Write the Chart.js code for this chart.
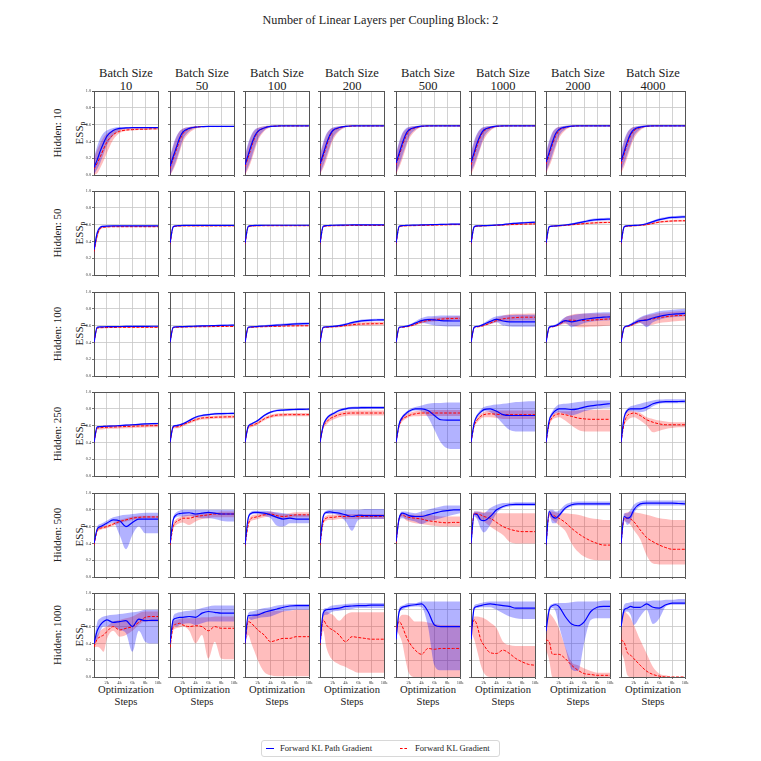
<!DOCTYPE html>
<html>
<head>
<meta charset="utf-8">
<script src="https://cdn.jsdelivr.net/npm/chart.js@4.4.0/dist/chart.umd.min.js"></script>
<style>
  body { margin: 0; background: #fff; }
  #fig { position: relative; width: 761px; height: 761px; overflow: hidden;
         font-family: 'Liberation Serif', 'DejaVu Serif', serif; color: #222; }
  .t { position: absolute; white-space: nowrap; transform: translate(-50%, -50%); line-height: 1; }
  .rot { transform: translate(-50%, -50%) rotate(-90deg); }
  .t sub { font-size: 70%; vertical-align: -0.3em; line-height: 0; }
  canvas { position: absolute; }
  #legend { position: absolute; left: 261px; top: 740px; width: 237px; height: 15px;
            border: 1px solid #d8d8d8; border-radius: 3px; font-size: 8.6px; }
  #legend span { position: absolute; top: 7px; }
</style>
</head>
<body>
<div id="fig">
  <div id="legend">
    <span style="left:4px;width:8px;border-top:1.2px solid #0000ff;"></span>
    <span style="left:18px;top:2px;">Forward KL Path Gradient</span>
    <span style="left:138px;width:7px;border-top:1px dashed #ff0000;"></span>
    <span style="left:153px;top:2px;">Forward KL Gradient</span>
  </div>
</div>
<script>
// Dati
const steps = [0, 500, 1000, 1500, 2000, 3000, 4000, 5000, 6000, 7000, 8000, 9000, 10000];
const batchSizes = ['10', '50', '100', '200', '500', '1000', '2000', '4000'];
const hiddenSizes = ['10', '50', '100', '250', '500', '1000'];
const xTickValues = [2000, 4000, 6000, 8000, 10000];
const xTickLabels = ['2k', '4k', '6k', '8k', '10k'];
const yTickValues = [0, 0.2, 0.4, 0.6, 0.8, 1.0];
const yTickLabels = ['0.0', '0.2', '0.4', '0.6', '0.8', '1.0'];

// Hidden: 10
const pathMeanH10 = [
  [.09,.18,.29,.38,.46,.53,.555,.56,.565,.565,.565,.565,.565],
  [.10,.22,.33,.44,.51,.555,.57,.575,.578,.578,.578,.578,.578],
  [.12,.24,.36,.46,.52,.56,.58,.583,.585,.585,.585,.585,.585],
  [.13,.25,.37,.47,.53,.565,.58,.584,.585,.585,.585,.585,.585],
  [.14,.26,.38,.48,.535,.567,.581,.585,.586,.586,.586,.586,.586],
  [.15,.27,.39,.48,.535,.567,.581,.585,.586,.586,.586,.586,.586],
  [.15,.27,.39,.49,.54,.57,.582,.585,.586,.586,.586,.586,.586],
  [.16,.28,.40,.49,.54,.57,.582,.585,.586,.586,.586,.586,.586]];
const pathLowH10 = [
  [.01,.07,.15,.25,.35,.47,.53,.55,.56,.56,.56,.56,.56],
  [.00,.08,.18,.30,.42,.52,.56,.57,.575,.575,.575,.575,.575],
  [.01,.10,.20,.32,.43,.53,.57,.58,.582,.582,.582,.582,.582],
  [.02,.11,.22,.33,.44,.53,.57,.58,.582,.582,.582,.582,.582],
  [.03,.12,.23,.34,.45,.54,.572,.58,.583,.583,.583,.583,.583],
  [.04,.12,.23,.34,.45,.54,.572,.58,.583,.583,.583,.583,.583],
  [.04,.13,.24,.35,.46,.545,.574,.581,.583,.583,.583,.583,.583],
  [.05,.14,.25,.36,.46,.545,.574,.581,.583,.583,.583,.583,.583]];
const pathHighH10 = [
  [.21,.34,.44,.50,.53,.56,.57,.57,.57,.57,.57,.57,.57],
  [.22,.36,.46,.52,.55,.57,.58,.58,.58,.58,.58,.58,.58],
  [.24,.38,.48,.54,.56,.58,.585,.588,.588,.588,.588,.588,.588],
  [.25,.39,.49,.54,.565,.58,.587,.588,.588,.588,.588,.588,.588],
  [.26,.40,.50,.55,.57,.583,.588,.589,.589,.589,.589,.589,.589],
  [.27,.41,.50,.55,.57,.583,.588,.589,.589,.589,.589,.589,.589],
  [.27,.41,.51,.555,.572,.585,.588,.589,.589,.589,.589,.589,.589],
  [.28,.42,.51,.555,.572,.585,.588,.589,.589,.589,.589,.589,.589]];
const gradMeanH10 = [
  [.07,.14,.22,.31,.39,.48,.52,.535,.54,.545,.545,.55,.55],
  [.08,.19,.30,.41,.49,.55,.57,.575,.577,.577,.577,.577,.577],
  [.10,.21,.33,.44,.51,.56,.578,.582,.584,.584,.584,.584,.584],
  [.11,.22,.34,.45,.52,.56,.578,.582,.584,.584,.584,.584,.584],
  [.12,.23,.35,.45,.52,.562,.579,.583,.585,.585,.585,.585,.585],
  [.12,.24,.36,.46,.52,.562,.579,.583,.585,.585,.585,.585,.585],
  [.13,.24,.36,.46,.525,.565,.58,.584,.585,.585,.585,.585,.585],
  [.13,.25,.37,.47,.525,.565,.58,.584,.585,.585,.585,.585,.585]];
const gradLowH10 = [
  [.00,.02,.09,.17,.26,.42,.50,.525,.53,.535,.535,.54,.54],
  [.00,.06,.15,.27,.39,.50,.55,.57,.573,.573,.573,.573,.573],
  [.00,.07,.17,.29,.40,.52,.565,.578,.58,.58,.58,.58,.58],
  [.01,.08,.18,.30,.41,.52,.565,.578,.58,.58,.58,.58,.58],
  [.01,.09,.19,.31,.42,.525,.567,.579,.581,.581,.581,.581,.581],
  [.01,.09,.20,.32,.42,.525,.567,.579,.581,.581,.581,.581,.581],
  [.02,.10,.20,.32,.43,.53,.57,.58,.581,.581,.581,.581,.581],
  [.02,.10,.21,.33,.43,.53,.57,.58,.581,.581,.581,.581,.581]];
const gradHighH10 = [
  [.20,.30,.38,.45,.49,.54,.555,.56,.56,.56,.56,.56,.56],
  [.21,.34,.45,.52,.55,.57,.58,.58,.58,.58,.58,.58,.58],
  [.22,.36,.47,.53,.56,.58,.585,.588,.588,.588,.588,.588,.588],
  [.23,.37,.48,.54,.56,.58,.586,.588,.588,.588,.588,.588,.588],
  [.24,.38,.49,.54,.565,.582,.587,.589,.589,.589,.589,.589,.589],
  [.25,.39,.49,.545,.565,.582,.587,.589,.589,.589,.589,.589,.589],
  [.25,.39,.50,.55,.57,.584,.588,.589,.589,.589,.589,.589,.589],
  [.26,.40,.50,.55,.57,.584,.588,.589,.589,.589,.589,.589,.589]];

// Hidden: 50
const pathMeanH50 = [
  [.30,.50,.57,.58,.583,.585,.585,.585,.585,.585,.585,.585,.585],
  [.38,.575,.585,.588,.59,.59,.59,.59,.59,.59,.59,.59,.59],
  [.38,.578,.587,.59,.59,.592,.592,.592,.592,.592,.592,.592,.592],
  [.38,.58,.588,.59,.592,.594,.595,.596,.597,.597,.597,.597,.597],
  [.38,.58,.588,.59,.592,.594,.596,.598,.60,.602,.604,.605,.606],
  [.38,.575,.585,.586,.588,.59,.595,.60,.61,.615,.62,.625,.628],
  [.38,.575,.583,.585,.588,.595,.605,.62,.635,.65,.66,.663,.665],
  [.38,.575,.585,.588,.59,.595,.61,.635,.66,.675,.685,.69,.692]];
const pathLowH50 = [
  [.24,.46,.55,.57,.575,.578,.578,.578,.578,.578,.578,.578,.578],
  [.34,.565,.58,.583,.585,.585,.585,.585,.585,.585,.585,.585,.585],
  [.34,.568,.582,.585,.585,.587,.587,.587,.587,.587,.587,.587,.587],
  [.34,.57,.583,.585,.587,.589,.59,.591,.592,.592,.592,.592,.592],
  [.34,.57,.583,.585,.587,.589,.59,.592,.594,.595,.597,.598,.598],
  [.34,.565,.578,.58,.582,.584,.588,.592,.60,.604,.608,.612,.614],
  [.34,.565,.576,.578,.58,.587,.595,.607,.62,.633,.643,.647,.649],
  [.34,.565,.578,.58,.582,.587,.598,.62,.645,.66,.67,.674,.676]];
const pathHighH50 = [
  [.35,.53,.58,.59,.59,.592,.592,.592,.592,.592,.592,.592,.592],
  [.42,.585,.59,.593,.595,.595,.595,.595,.595,.595,.595,.595,.595],
  [.42,.588,.592,.595,.595,.597,.597,.597,.597,.597,.597,.597,.597],
  [.42,.59,.593,.595,.597,.599,.60,.601,.602,.602,.602,.602,.602],
  [.42,.59,.593,.595,.597,.599,.602,.604,.606,.609,.611,.612,.614],
  [.42,.585,.592,.592,.594,.596,.602,.608,.62,.626,.632,.638,.642],
  [.42,.585,.59,.592,.596,.603,.615,.633,.65,.667,.677,.68,.682],
  [.42,.585,.592,.596,.598,.603,.622,.65,.675,.69,.70,.706,.708]];
const gradMeanH50 = [
  [.28,.47,.555,.568,.572,.575,.575,.575,.575,.575,.575,.575,.575],
  [.37,.57,.58,.583,.585,.585,.585,.585,.585,.585,.585,.585,.585],
  [.37,.572,.582,.585,.586,.587,.587,.587,.587,.587,.587,.587,.587],
  [.37,.574,.583,.585,.587,.588,.589,.59,.59,.59,.59,.59,.59],
  [.37,.574,.583,.585,.587,.588,.59,.592,.594,.596,.598,.60,.60],
  [.37,.57,.58,.583,.585,.588,.59,.595,.60,.603,.605,.607,.608],
  [.37,.57,.58,.583,.585,.59,.598,.605,.612,.618,.622,.625,.626],
  [.37,.57,.58,.583,.586,.59,.60,.615,.63,.638,.643,.645,.646]];
const gradLowH50 = [
  [.22,.43,.54,.56,.565,.568,.568,.568,.568,.568,.568,.568,.568],
  [.33,.562,.572,.575,.577,.577,.577,.577,.577,.577,.577,.577,.577],
  [.33,.564,.574,.577,.578,.579,.579,.579,.579,.579,.579,.579,.579],
  [.33,.566,.575,.577,.579,.58,.581,.582,.582,.582,.582,.582,.582],
  [.33,.566,.575,.577,.579,.58,.582,.584,.586,.588,.59,.591,.591],
  [.33,.562,.572,.575,.577,.58,.582,.586,.59,.593,.595,.597,.598],
  [.33,.562,.572,.575,.577,.582,.589,.595,.602,.607,.611,.614,.615],
  [.33,.562,.572,.575,.578,.582,.59,.604,.618,.626,.631,.633,.634]];
const gradHighH50 = [
  [.33,.51,.57,.578,.58,.582,.582,.582,.582,.582,.582,.582,.582],
  [.41,.578,.588,.591,.593,.593,.593,.593,.593,.593,.593,.593,.593],
  [.41,.58,.59,.593,.594,.595,.595,.595,.595,.595,.595,.595,.595],
  [.41,.582,.591,.593,.595,.596,.597,.598,.598,.598,.598,.598,.598],
  [.41,.582,.591,.593,.595,.596,.598,.60,.602,.604,.606,.609,.609],
  [.41,.578,.588,.591,.593,.596,.598,.604,.61,.613,.615,.617,.618],
  [.41,.578,.588,.591,.593,.598,.607,.615,.622,.629,.633,.636,.637],
  [.41,.578,.588,.591,.594,.598,.61,.626,.642,.65,.655,.657,.658]];

// Hidden: 100
const pathMeanH100 = [
  [.40,.58,.585,.586,.587,.588,.589,.59,.59,.59,.59,.592,.592],
  [.40,.58,.585,.587,.588,.59,.593,.596,.598,.60,.602,.604,.605],
  [.40,.58,.585,.587,.59,.595,.60,.605,.61,.615,.62,.623,.625],
  [.40,.58,.585,.587,.59,.60,.615,.635,.65,.66,.665,.667,.668],
  [.40,.58,.585,.59,.60,.63,.66,.67,.668,.66,.656,.655,.655],
  [.40,.58,.59,.60,.615,.65,.675,.655,.645,.645,.645,.645,.645],
  [.40,.58,.59,.60,.62,.66,.645,.66,.675,.685,.695,.70,.705],
  [.40,.58,.595,.61,.63,.66,.665,.69,.71,.725,.735,.74,.745]];
const pathLowH100 = [
  [.40,.572,.578,.579,.58,.581,.582,.583,.583,.583,.583,.585,.585],
  [.40,.572,.578,.58,.58,.582,.585,.588,.59,.592,.594,.596,.597],
  [.40,.572,.578,.58,.582,.585,.588,.592,.596,.60,.605,.608,.61],
  [.40,.572,.578,.58,.582,.59,.602,.62,.635,.645,.65,.652,.653],
  [.40,.575,.58,.585,.59,.61,.63,.62,.60,.595,.59,.59,.59],
  [.40,.575,.585,.59,.60,.62,.64,.60,.59,.585,.585,.585,.585],
  [.40,.575,.58,.585,.60,.63,.58,.60,.63,.645,.655,.66,.665],
  [.40,.575,.585,.595,.61,.63,.58,.64,.67,.69,.70,.705,.71]];
const pathHighH100 = [
  [.40,.588,.592,.593,.594,.595,.596,.597,.597,.597,.597,.599,.599],
  [.40,.588,.592,.594,.596,.598,.601,.604,.606,.608,.61,.612,.613],
  [.40,.588,.592,.594,.598,.605,.612,.618,.624,.63,.635,.638,.64],
  [.40,.588,.592,.594,.598,.61,.628,.65,.665,.675,.68,.682,.683],
  [.40,.585,.59,.60,.61,.65,.69,.71,.715,.72,.72,.72,.72],
  [.40,.585,.595,.61,.63,.68,.71,.72,.725,.73,.73,.73,.73],
  [.40,.585,.60,.615,.64,.70,.72,.735,.745,.75,.755,.76,.76],
  [.40,.585,.605,.625,.65,.70,.73,.75,.77,.78,.79,.795,.80]];
const gradMeanH100 = [
  [.40,.57,.575,.576,.577,.578,.58,.58,.58,.58,.58,.58,.58],
  [.40,.575,.58,.582,.583,.585,.586,.587,.588,.589,.59,.59,.59],
  [.40,.575,.58,.583,.585,.587,.59,.592,.594,.596,.597,.598,.598],
  [.40,.575,.58,.583,.585,.59,.60,.61,.617,.62,.622,.623,.624],
  [.40,.575,.58,.585,.59,.615,.645,.66,.67,.677,.682,.685,.687],
  [.40,.575,.585,.59,.60,.63,.66,.68,.69,.695,.70,.70,.70],
  [.40,.575,.585,.595,.61,.655,.665,.66,.66,.665,.67,.675,.68],
  [.40,.575,.59,.60,.62,.655,.67,.68,.695,.705,.715,.72,.722]];
const gradLowH100 = [
  [.40,.562,.567,.568,.569,.57,.572,.572,.572,.572,.572,.572,.572],
  [.40,.567,.572,.574,.575,.577,.578,.579,.58,.581,.582,.582,.582],
  [.40,.567,.572,.575,.577,.579,.582,.584,.586,.588,.589,.59,.59],
  [.40,.567,.572,.575,.577,.58,.585,.592,.598,.60,.602,.603,.604],
  [.40,.57,.575,.58,.585,.60,.625,.64,.65,.655,.66,.66,.66],
  [.40,.57,.58,.585,.595,.615,.64,.65,.655,.66,.66,.66,.66],
  [.40,.57,.58,.585,.60,.62,.60,.58,.58,.585,.59,.595,.60],
  [.40,.57,.58,.59,.60,.63,.60,.61,.63,.64,.65,.655,.66]];
const gradHighH100 = [
  [.40,.578,.583,.584,.585,.586,.588,.588,.588,.588,.588,.588,.588],
  [.40,.583,.588,.59,.591,.593,.594,.595,.596,.597,.598,.598,.598],
  [.40,.583,.588,.591,.593,.595,.598,.60,.602,.604,.605,.606,.606],
  [.40,.583,.588,.591,.593,.60,.615,.628,.636,.64,.642,.643,.644],
  [.40,.58,.585,.59,.60,.63,.665,.685,.695,.70,.705,.708,.71],
  [.40,.58,.59,.60,.61,.65,.69,.72,.735,.74,.74,.745,.745],
  [.40,.58,.59,.605,.625,.70,.73,.74,.745,.745,.745,.745,.745],
  [.40,.58,.60,.615,.64,.69,.72,.735,.75,.76,.765,.77,.77]];

// Hidden: 250
const pathMeanH250 = [
  [.40,.585,.588,.59,.592,.595,.60,.605,.61,.615,.62,.623,.625],
  [.40,.59,.60,.61,.62,.66,.70,.72,.73,.74,.742,.744,.745],
  [.40,.59,.62,.64,.66,.72,.76,.78,.785,.79,.792,.794,.795],
  [.40,.60,.68,.72,.74,.78,.80,.81,.812,.814,.815,.815,.815],
  [.40,.62,.70,.74,.77,.80,.80,.78,.72,.67,.665,.665,.665],
  [.40,.63,.72,.76,.79,.80,.77,.73,.72,.72,.72,.72,.72],
  [.40,.66,.74,.78,.80,.80,.79,.80,.82,.835,.845,.853,.86],
  [.40,.70,.78,.80,.80,.80,.82,.86,.88,.885,.885,.887,.89]];
const pathLowH250 = [
  [.40,.577,.58,.582,.584,.587,.592,.597,.602,.607,.612,.615,.617],
  [.40,.58,.59,.60,.608,.648,.688,.708,.718,.728,.73,.732,.733],
  [.40,.58,.61,.63,.648,.708,.748,.768,.773,.778,.78,.782,.783],
  [.40,.585,.665,.705,.725,.765,.785,.795,.797,.799,.80,.80,.80],
  [.40,.60,.68,.72,.75,.78,.77,.70,.55,.40,.33,.32,.32],
  [.40,.61,.70,.74,.77,.76,.70,.62,.55,.53,.53,.53,.53],
  [.40,.64,.72,.75,.76,.74,.72,.74,.77,.79,.80,.81,.815],
  [.40,.68,.76,.77,.77,.76,.78,.83,.86,.865,.865,.865,.865]];
const pathHighH250 = [
  [.40,.593,.596,.598,.60,.603,.608,.613,.618,.623,.628,.631,.633],
  [.40,.60,.61,.62,.632,.672,.712,.732,.742,.752,.754,.756,.757],
  [.40,.60,.63,.65,.672,.732,.772,.792,.797,.802,.804,.806,.807],
  [.40,.615,.695,.735,.755,.795,.815,.825,.827,.829,.83,.83,.83],
  [.40,.64,.72,.76,.79,.82,.84,.86,.87,.87,.875,.875,.875],
  [.40,.65,.74,.79,.82,.84,.85,.86,.87,.88,.885,.89,.89],
  [.40,.68,.77,.82,.85,.86,.87,.88,.89,.895,.90,.90,.90],
  [.40,.72,.80,.83,.84,.86,.88,.90,.91,.915,.915,.915,.915]];
const gradMeanH250 = [
  [.40,.57,.575,.578,.58,.583,.586,.589,.592,.595,.597,.599,.60],
  [.40,.58,.585,.59,.61,.64,.67,.69,.695,.70,.702,.704,.705],
  [.40,.58,.60,.615,.63,.68,.71,.725,.728,.73,.73,.73,.73],
  [.40,.59,.64,.68,.70,.73,.745,.75,.75,.75,.75,.75,.75],
  [.40,.60,.68,.70,.72,.74,.75,.75,.75,.75,.75,.75,.75],
  [.40,.60,.67,.71,.73,.74,.735,.73,.73,.73,.73,.73,.73],
  [.40,.62,.70,.73,.74,.73,.71,.69,.68,.675,.675,.675,.675],
  [.40,.63,.72,.74,.75,.72,.67,.64,.62,.61,.61,.61,.61]];
const gradLowH250 = [
  [.40,.55,.555,.558,.56,.563,.566,.569,.572,.575,.577,.579,.58],
  [.40,.562,.567,.572,.592,.622,.652,.672,.677,.682,.684,.686,.687],
  [.40,.56,.58,.595,.61,.66,.69,.705,.708,.71,.71,.71,.71],
  [.40,.56,.61,.65,.67,.70,.715,.72,.72,.72,.72,.72,.72],
  [.40,.58,.65,.68,.70,.71,.715,.715,.715,.715,.715,.715,.715],
  [.40,.58,.64,.68,.70,.70,.69,.68,.68,.68,.68,.68,.68],
  [.40,.60,.67,.69,.70,.66,.60,.55,.53,.53,.53,.53,.53],
  [.40,.60,.66,.69,.70,.66,.60,.52,.54,.56,.57,.58,.58]];
const gradHighH250 = [
  [.40,.59,.595,.598,.60,.603,.606,.609,.612,.615,.617,.619,.62],
  [.40,.598,.603,.608,.628,.658,.688,.708,.713,.718,.72,.722,.723],
  [.40,.60,.62,.635,.65,.70,.73,.745,.748,.75,.75,.75,.75],
  [.40,.62,.67,.71,.73,.76,.775,.78,.78,.78,.78,.78,.78],
  [.40,.62,.71,.73,.75,.77,.78,.785,.785,.785,.785,.785,.785],
  [.40,.62,.70,.74,.76,.78,.78,.78,.78,.78,.78,.78,.78],
  [.40,.64,.73,.76,.77,.77,.775,.78,.785,.79,.79,.79,.79],
  [.40,.66,.78,.78,.77,.75,.70,.68,.66,.65,.64,.64,.64]];

// Hidden: 500
const pathMeanH500 = [
  [.40,.57,.60,.62,.64,.68,.67,.60,.65,.69,.69,.69,.69],
  [.40,.68,.74,.755,.76,.765,.75,.76,.77,.76,.75,.75,.75],
  [.38,.70,.76,.77,.77,.76,.74,.71,.69,.70,.69,.69,.69],
  [.40,.72,.77,.775,.77,.76,.74,.72,.735,.73,.73,.73,.73],
  [.42,.70,.76,.75,.73,.72,.72,.74,.76,.78,.79,.80,.80],
  [.40,.75,.74,.68,.67,.72,.80,.84,.86,.865,.865,.865,.865],
  [.38,.78,.72,.70,.73,.82,.86,.87,.87,.87,.87,.87,.87],
  [.40,.72,.70,.72,.80,.87,.88,.88,.88,.88,.88,.875,.87]];
const pathLowH500 = [
  [.40,.55,.58,.60,.62,.65,.50,.33,.50,.60,.52,.52,.52],
  [.40,.66,.71,.72,.72,.73,.71,.70,.70,.69,.67,.66,.66],
  [.38,.68,.74,.75,.75,.73,.70,.61,.60,.64,.64,.64,.64],
  [.40,.70,.75,.75,.75,.73,.66,.55,.68,.69,.69,.69,.69],
  [.40,.68,.70,.69,.68,.66,.63,.66,.68,.70,.72,.74,.76],
  [.38,.72,.68,.58,.53,.62,.76,.82,.84,.845,.845,.845,.845],
  [.36,.74,.64,.64,.70,.80,.84,.85,.85,.85,.85,.85,.85],
  [.38,.68,.62,.66,.76,.84,.85,.85,.85,.85,.85,.85,.85]];
const pathHighH500 = [
  [.40,.60,.63,.65,.67,.71,.73,.74,.75,.76,.765,.765,.765],
  [.40,.70,.77,.79,.80,.80,.80,.80,.80,.80,.80,.80,.80],
  [.38,.72,.78,.79,.79,.79,.78,.77,.76,.75,.745,.745,.745],
  [.40,.74,.79,.80,.80,.80,.80,.80,.80,.81,.81,.81,.81],
  [.44,.72,.78,.78,.77,.76,.78,.80,.82,.84,.85,.85,.85],
  [.42,.78,.78,.77,.76,.82,.86,.88,.885,.89,.89,.89,.89],
  [.40,.80,.80,.78,.79,.86,.89,.90,.90,.90,.90,.90,.90],
  [.42,.76,.76,.80,.86,.90,.91,.91,.91,.91,.91,.91,.91]];
const gradMeanH500 = [
  [.38,.55,.58,.59,.60,.63,.66,.68,.70,.71,.715,.715,.715],
  [.38,.60,.66,.68,.70,.70,.72,.73,.74,.75,.75,.75,.75],
  [.37,.62,.70,.71,.72,.74,.75,.73,.72,.73,.74,.74,.74],
  [.38,.65,.70,.71,.71,.72,.72,.72,.72,.72,.72,.72,.72],
  [.40,.70,.74,.72,.71,.70,.69,.67,.66,.65,.645,.65,.65],
  [.40,.76,.75,.74,.72,.70,.65,.60,.57,.55,.54,.54,.54],
  [.38,.75,.74,.72,.70,.65,.58,.52,.47,.43,.40,.38,.38],
  [.40,.70,.70,.69,.66,.56,.47,.42,.38,.35,.33,.33,.33]];
const gradLowH500 = [
  [.36,.53,.56,.57,.58,.61,.64,.66,.68,.69,.70,.70,.70],
  [.36,.57,.62,.64,.65,.62,.66,.69,.70,.71,.71,.71,.71],
  [.35,.59,.67,.68,.69,.71,.72,.70,.69,.70,.71,.71,.71],
  [.36,.62,.67,.68,.68,.69,.69,.69,.69,.69,.69,.69,.69],
  [.38,.68,.72,.68,.66,.64,.63,.62,.61,.60,.60,.60,.60],
  [.38,.74,.70,.68,.66,.60,.55,.50,.42,.40,.40,.40,.40],
  [.36,.72,.68,.65,.62,.55,.40,.30,.24,.21,.20,.20,.20],
  [.38,.66,.65,.62,.56,.45,.26,.16,.15,.15,.15,.15,.15]];
const gradHighH500 = [
  [.40,.57,.60,.61,.62,.65,.68,.70,.72,.73,.73,.73,.73],
  [.40,.63,.69,.71,.73,.74,.75,.76,.77,.77,.78,.78,.78],
  [.39,.65,.73,.74,.75,.77,.78,.76,.75,.76,.77,.77,.77],
  [.40,.68,.73,.74,.74,.75,.75,.75,.75,.75,.75,.75,.75],
  [.42,.72,.76,.75,.74,.74,.74,.74,.73,.72,.72,.72,.72],
  [.42,.78,.78,.78,.77,.77,.76,.76,.76,.76,.76,.76,.76],
  [.40,.78,.78,.77,.76,.76,.75,.74,.72,.70,.69,.68,.68],
  [.42,.74,.77,.78,.77,.76,.74,.72,.70,.69,.68,.68,.68]];

// Hidden: 1000
const pathMeanH1000 = [
  [.40,.55,.62,.66,.68,.65,.66,.67,.60,.69,.67,.675,.675],
  [.40,.68,.70,.71,.71,.72,.71,.76,.78,.77,.76,.76,.76],
  [.40,.73,.735,.737,.74,.77,.79,.81,.83,.845,.85,.85,.85],
  [.40,.76,.80,.805,.81,.82,.84,.845,.85,.85,.855,.855,.855],
  [.45,.78,.83,.84,.85,.86,.87,.78,.62,.60,.60,.60,.60],
  [.45,.82,.84,.85,.86,.87,.86,.85,.84,.82,.82,.82,.82],
  [.55,.80,.85,.86,.84,.72,.63,.61,.66,.78,.83,.84,.84],
  [.60,.80,.82,.84,.83,.83,.87,.83,.82,.86,.88,.88,.88]];
const pathLowH1000 = [
  [.38,.45,.55,.60,.60,.60,.56,.52,.30,.55,.42,.40,.40],
  [.38,.62,.60,.62,.63,.64,.62,.64,.66,.66,.66,.66,.66],
  [.38,.70,.68,.69,.70,.71,.72,.75,.78,.79,.80,.80,.80],
  [.38,.72,.74,.76,.78,.79,.80,.81,.82,.82,.82,.82,.82],
  [.43,.76,.80,.82,.83,.84,.83,.60,.14,.08,.08,.08,.08],
  [.43,.80,.82,.83,.83,.83,.80,.76,.72,.70,.69,.69,.69],
  [.50,.76,.82,.78,.62,.35,.09,.07,.42,.68,.70,.70,.70],
  [.55,.76,.78,.74,.62,.72,.80,.63,.70,.84,.86,.86,.86]];
const pathHighH1000 = [
  [.42,.65,.70,.72,.73,.74,.75,.76,.77,.78,.80,.80,.80],
  [.42,.72,.76,.77,.78,.79,.80,.82,.84,.85,.85,.85,.85],
  [.42,.76,.78,.79,.80,.82,.83,.85,.86,.865,.87,.87,.87],
  [.42,.80,.82,.84,.85,.86,.87,.875,.88,.88,.88,.88,.88],
  [.47,.82,.85,.87,.88,.88,.90,.90,.90,.90,.90,.90,.90],
  [.47,.85,.87,.88,.89,.90,.90,.90,.90,.90,.90,.90,.90],
  [.62,.84,.87,.88,.88,.88,.89,.90,.90,.90,.90,.91,.91],
  [.62,.86,.88,.89,.90,.90,.90,.91,.91,.92,.92,.93,.93]];
const gradMeanH1000 = [
  [.36,.45,.48,.50,.54,.60,.56,.58,.60,.65,.71,.72,.72],
  [.35,.60,.63,.64,.62,.60,.61,.60,.55,.60,.58,.58,.58],
  [.40,.66,.64,.60,.56,.50,.42,.44,.46,.46,.48,.48,.48],
  [.38,.68,.62,.58,.56,.50,.42,.48,.47,.46,.45,.45,.45],
  [.58,.66,.60,.50,.42,.32,.27,.34,.33,.34,.34,.34,.34],
  [.55,.68,.60,.45,.38,.29,.28,.32,.28,.22,.18,.15,.14],
  [.44,.42,.27,.27,.27,.22,.14,.08,.04,.03,.02,.02,.02],
  [.44,.41,.29,.26,.22,.14,.07,.03,.01,.00,.00,.00,.00]];
const gradLowH1000 = [
  [.35,.36,.34,.30,.45,.55,.48,.50,.55,.62,.66,.66,.66],
  [.34,.55,.58,.59,.60,.55,.40,.50,.22,.42,.22,.21,.21],
  [.38,.50,.40,.30,.20,.06,.02,.01,.01,.01,.01,.01,.01],
  [.36,.55,.35,.25,.20,.15,.12,.08,.05,.05,.05,.05,.05],
  [.56,.50,.40,.20,.05,.00,.00,.00,.00,.00,.00,.00,.00],
  [.53,.45,.30,.15,.05,.00,.00,.00,.00,.00,.00,.00,.00],
  [.32,.20,.00,.00,.00,.00,.00,.00,.00,.00,.00,.00,.00],
  [.30,.20,.02,.00,.00,.00,.00,.00,.00,.00,.00,.00,.00]];
const gradHighH1000 = [
  [.45,.50,.55,.58,.60,.66,.68,.70,.72,.76,.78,.78,.78],
  [.37,.65,.68,.69,.70,.70,.70,.71,.71,.72,.72,.72,.72],
  [.42,.70,.72,.74,.76,.77,.78,.79,.79,.79,.80,.80,.80],
  [.40,.74,.78,.76,.74,.67,.74,.77,.77,.77,.77,.77,.77],
  [.60,.70,.74,.74,.73,.66,.66,.65,.63,.62,.62,.62,.62],
  [.57,.72,.72,.71,.70,.65,.58,.42,.38,.37,.37,.37,.37],
  [.46,.76,.72,.66,.58,.36,.18,.14,.10,.07,.05,.05,.05],
  [.46,.78,.75,.70,.62,.44,.28,.12,.04,.02,.00,.00,.00]];

const linhas = [
  { pm: pathMeanH10, pl: pathLowH10, ph: pathHighH10, gm: gradMeanH10, gl: gradLowH10, gh: gradHighH10 },
  { pm: pathMeanH50, pl: pathLowH50, ph: pathHighH50, gm: gradMeanH50, gl: gradLowH50, gh: gradHighH50 },
  { pm: pathMeanH100, pl: pathLowH100, ph: pathHighH100, gm: gradMeanH100, gl: gradLowH100, gh: gradHighH100 },
  { pm: pathMeanH250, pl: pathLowH250, ph: pathHighH250, gm: gradMeanH250, gl: gradLowH250, gh: gradHighH250 },
  { pm: pathMeanH500, pl: pathLowH500, ph: pathHighH500, gm: gradMeanH500, gl: gradLowH500, gh: gradHighH500 },
  { pm: pathMeanH1000, pl: pathLowH1000, ph: pathHighH1000, gm: gradMeanH1000, gl: gradLowH1000, gh: gradHighH1000 }
];

// Layout
const colLeft = [94, 170, 245, 320, 396, 471, 546, 621];
const rowTop = [91, 191, 292, 392, 493, 593];
const PW = 64, PH = 84;
const padL = 18, padT = 3, padR = 7, padB = 10;
const fonte = "'Liberation Serif', 'DejaVu Serif', serif";
const fig = document.getElementById('fig');

function addText(html, x, y, size, rot) {
  const d = document.createElement('div');
  d.className = 't' + (rot ? ' rot' : '');
  d.innerHTML = html;
  d.style.left = x + 'px';
  d.style.top = y + 'px';
  d.style.fontSize = size + 'px';
  fig.appendChild(d);
}

function pts(arr) {
  return steps.map((s, i) => ({ x: s, y: arr[i] }));
}

function banda(arr, cor, fill) {
  return { data: pts(arr), borderWidth: 0, borderColor: 'rgba(0,0,0,0)', backgroundColor: cor, fill: fill };
}

function criarGrafico(r, c) {
  const cv = document.createElement('canvas');
  cv.width = PW + padL + padR;
  cv.height = PH + padT + padB;
  cv.style.left = (colLeft[c] - padL) + 'px';
  cv.style.top = (rowTop[r] - padT) + 'px';
  fig.appendChild(cv);

  const d = linhas[r];
  new Chart(cv, {
    type: 'line',
    data: {
      datasets: [
        { data: pts(d.pm[c]), borderColor: '#0000ff', borderWidth: 1.2, fill: false },
        { data: pts(d.gm[c]), borderColor: '#ff0000', borderWidth: 1, borderDash: [3, 1.5], fill: false },
        banda(d.ph[c], 'rgba(0,0,255,0.3)', '+1'),
        banda(d.pl[c], 'rgba(0,0,0,0)', false),
        banda(d.gh[c], 'rgba(255,0,0,0.26)', '+1'),
        banda(d.gl[c], 'rgba(0,0,0,0)', false)
      ]
    },
    options: {
      responsive: false,
      animation: false,
      events: [],
      layout: { padding: { left: 0, right: padR, top: padT, bottom: 0 } },
      plugins: { legend: { display: false }, tooltip: { enabled: false } },
      elements: { point: { radius: 0 }, line: { cubicInterpolationMode: 'monotone' } },
      scales: {
        x: {
          type: 'linear', min: 0, max: 10000,
          afterBuildTicks: s => { s.ticks = xTickValues.map(v => ({ value: v })); },
          afterFit: s => { s.height = padB; s.paddingLeft = 0; s.paddingRight = 0; },
          ticks: {
            display: r === 5, autoSkip: false, maxRotation: 0, padding: 1,
            font: { size: 4.5, family: fonte }, color: '#333',
            callback: v => xTickLabels[xTickValues.indexOf(v)]
          },
          grid: {
            color: ctx => (ctx.tick && ctx.tick.value === 10000) ? '#555' : '#c6c6c6',
            lineWidth: ctx => (ctx.tick && ctx.tick.value === 10000) ? 1 : 0.8,
            tickLength: 2, tickColor: '#555'
          },
          border: { color: '#555', width: 1 }
        },
        y: {
          min: 0, max: 1,
          afterBuildTicks: s => { s.ticks = yTickValues.map(v => ({ value: v })); },
          afterFit: s => { s.width = padL; s.paddingTop = 0; s.paddingBottom = 0; },
          ticks: {
            display: c === 0, autoSkip: false, padding: 1,
            font: { size: 4.2, family: fonte }, color: '#333',
            callback: v => yTickLabels[yTickValues.indexOf(v)]
          },
          grid: {
            color: ctx => (ctx.tick && ctx.tick.value === 1) ? '#555' : '#c6c6c6',
            lineWidth: ctx => (ctx.tick && ctx.tick.value === 1) ? 1 : 0.8,
            tickLength: 2, tickColor: '#555'
          },
          border: { color: '#555', width: 1 }
        }
      }
    }
  });
}

// Textos
addText('Number of Linear Layers per Coupling Block: 2', 380.5, 20, 12.2);
batchSizes.forEach((b, c) => {
  const cx = colLeft[c] + PW / 2;
  addText('Batch Size', cx, 73, 12.5);
  addText(b, cx, 85.5, 12.5);
  addText('Optimization', cx, 690, 10.6);
  addText('Steps', cx, 701.5, 10.6);
});
hiddenSizes.forEach((h, r) => {
  const cy = rowTop[r] + PH / 2;
  addText('Hidden: ' + h, 57, cy, 11, true);
  addText('ESS<sub>p</sub>', 79, cy, 11, true);
});

for (let r = 0; r < hiddenSizes.length; r++) {
  for (let c = 0; c < batchSizes.length; c++) {
    criarGrafico(r, c);
  }
}
</script>
</body>
</html>
